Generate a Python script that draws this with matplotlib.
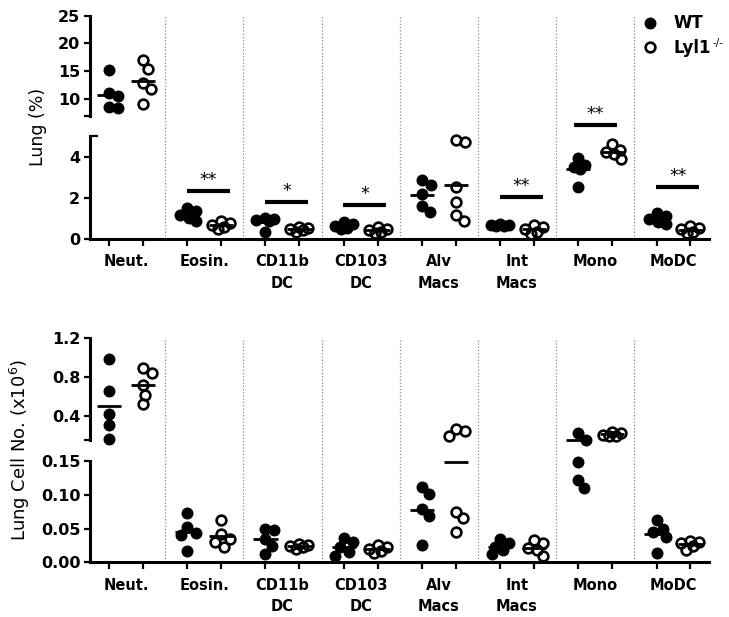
import numpy as np
import matplotlib
matplotlib.use("Agg")
import matplotlib.pyplot as plt
from matplotlib.lines import Line2D

plt.rcParams['font.family'] = ['DejaVu Sans']
plt.rcParams['mathtext.fontset'] = 'dejavusans'

# ---------------- data ----------------
categories = ["Neut.", "Eosin.", "CD11b\nDC", "CD103\nDC", "Alv\nMacs",
              "Int\nMacs", "Mono", "MoDC"]

# Lung (%) per population
pct_wt = [
    [15.2, 11.0, 10.5, 8.6, 8.3],
    [1.5, 1.35, 1.15, 1.0, 0.85],
    [1.0, 0.95, 0.9, 0.85, 0.35],
    [0.8, 0.7, 0.6, 0.5, 0.45],
    [2.85, 2.6, 2.2, 1.6, 1.3],
    [0.72, 0.68, 0.65, 0.62, 0.6],
    [3.95, 3.6, 3.5, 3.4, 2.5],
    [1.25, 1.1, 0.95, 0.8, 0.7],
]
pct_ko = [
    [17.0, 15.4, 12.8, 11.8, 9.1],
    [0.85, 0.75, 0.65, 0.55, 0.45],
    [0.55, 0.5, 0.45, 0.4, 0.35],
    [0.55, 0.45, 0.4, 0.35, 0.3],
    [4.8, 4.7, 2.5, 1.8, 1.15, 0.85],
    [0.65, 0.55, 0.45, 0.35, 0.25],
    [4.6, 4.3, 4.2, 4.1, 3.9],
    [0.6, 0.5, 0.45, 0.35, 0.3],
]

# Lung cell number (x10^6)
num_wt = [
    [0.98, 0.655, 0.417, 0.308, 0.16],
    [0.073, 0.052, 0.044, 0.040, 0.017],
    [0.050, 0.048, 0.035, 0.024, 0.012],
    [0.036, 0.030, 0.022, 0.015, 0.010],
    [0.111, 0.101, 0.079, 0.069, 0.025],
    [0.035, 0.028, 0.022, 0.018, 0.012],
    [0.223, 0.154, 0.149, 0.122, 0.110],
    [0.062, 0.050, 0.045, 0.037, 0.014],
]
num_ko = [
    [0.89, 0.84, 0.72, 0.62, 0.52],
    [0.063, 0.042, 0.035, 0.030, 0.022],
    [0.027, 0.025, 0.024, 0.022, 0.020],
    [0.025, 0.023, 0.020, 0.017, 0.014],
    [0.27, 0.25, 0.19, 0.075, 0.065, 0.045],
    [0.033, 0.028, 0.021, 0.018, 0.009],
    [0.24, 0.225, 0.21, 0.20, 0.19],
    [0.032, 0.030, 0.028, 0.024, 0.018],
]

# significance annotations on the % panel: (category index, bar height, label)
sig_idx = [1, 2, 3, 5, 6, 7]
sig_height = [2.31, 1.77, 1.65, 2.03, 5.54, 2.53]
sig_label = ["**", "*", "*", "**", "**", "**"]

legend_labels = ["WT", "Lyl1"]
legend_ko_sup = "-/-"

# ---------------- layout ----------------
W, H = 729, 617
fig = plt.figure(figsize=(W / 100, H / 100), dpi=100)


def px_axes(left, top, right, bottom, **kw):
    return fig.add_axes([left / W, 1 - bottom / H, (right - left) / W, (bottom - top) / H], **kw)


XL, XR = 90, 709
xlim = (-0.46, 7.454)
OFF = 0.217
SPINE_LW = 2.2
MS = 7.6  # marker size in points

panels = [
    dict(upper=(15.7, 115.7), lower=(136.0, 238.7), ulim=(7, 25), llim=(0, 5),
         uticks=[10, 15, 20, 25], ulabels=["10", "15", "20", "25"],
         lticks=[0, 2, 4], llabels=["0", "2", "4"],
         wt=pct_wt, ko=pct_ko, ylabel="Lung (%)", ylabel_x=38, ylabel_size=12.5),
    dict(upper=(338.0, 440.4), lower=(461.0, 562.3), ulim=(0.15, 1.2), llim=(0, 0.15),
         uticks=[0.4, 0.8, 1.2], ulabels=["0.4", "0.8", "1.2"],
         lticks=[0, 0.05, 0.10, 0.15], llabels=["0.00", "0.05", "0.10", "0.15"],
         wt=num_wt, ko=num_ko, ylabel="Lung Cell No. (x10$^6$)", ylabel_x=20,
         ylabel_size=13),
]

positions = np.arange(len(categories))


def style_axes(ax):
    for s in ["top", "right", "bottom"]:
        ax.spines[s].set_visible(False)
    ax.spines["left"].set_linewidth(SPINE_LW)
    ax.set_xlim(*xlim)
    ax.tick_params(axis="y", which="both", length=4, width=1.6, pad=3,
                   labelsize=11.5)
    for lbl in ax.get_yticklabels():
        lbl.set_fontweight("bold")
    ax.patch.set_alpha(0)


def swarm_offsets(xc, vals, axes_for, cap=9.0):
    """Spread overlapping points sideways (display pixels), within +/- cap."""
    diam = MS * 100 / 72.0
    min_d = diam * 0.95
    pts = []
    order = np.argsort(vals)[::-1]
    xs = np.zeros(len(vals))
    cands = [0.0]
    for k in range(1, int(cap / 0.5) + 1):
        cands += [k * 0.5, -k * 0.5]
    for i in order:
        v = vals[i]
        ax = axes_for(v)
        px, py = ax.transData.transform((xc, v))
        best, best_gap = None, -1
        for dx in cands:
            gap = min([np.hypot(px + dx - qx, py - qy) for qx, qy in pts] + [1e9])
            if gap >= min_d:
                best = dx
                break
            if gap > best_gap + 0.3:
                best_gap, best = gap, dx
        pts.append((px + best, py))
        xs[i] = ax.transData.inverted().transform((px + best, py))[0]
    return xs


pct_lower = None
for p in panels:
    # dotted separators across both segments (behind everything)
    sep = px_axes(XL, p["upper"][0], XR, p["lower"][1], zorder=0)
    sep.set_xlim(*xlim)
    sep.set_ylim(0, 1)
    sep.axis("off")
    for xs in positions[:-1] + 0.5:
        sep.axvline(xs, color="#8c8c8c", lw=0.9, ls=(0, (1, 1.6)))

    axu = px_axes(XL, p["upper"][0], XR, p["upper"][1], zorder=2)
    axl = px_axes(XL, p["lower"][0], XR, p["lower"][1], zorder=2)
    axu.set_ylim(*p["ulim"])
    axl.set_ylim(*p["llim"])

    # upper segment ticks
    axu.set_yticks(p["uticks"])
    axu.set_yticklabels(p["ulabels"])
    axu.set_yticks([p["ulim"][0]], minor=True)
    axu.set_xticks([])
    style_axes(axu)

    # lower segment ticks
    axl.set_yticks(p["lticks"])
    axl.set_yticklabels(p["llabels"])
    axl.set_yticks([p["llim"][1]], minor=True)
    style_axes(axl)
    axl.tick_params(axis="y", which="minor", direction="in", length=6)
    axl.spines["bottom"].set_visible(True)
    axl.spines["bottom"].set_linewidth(SPINE_LW)
    axl.set_xticks(positions)
    axl.set_xticklabels(categories, fontsize=10.5, fontweight="bold")
    axl.set_xticks(np.concatenate([positions - OFF, positions + OFF]), minor=True)
    axl.tick_params(axis="x", which="major", length=0, pad=11)
    axl.tick_params(axis="x", which="minor", length=5, width=1.6, direction="out")
    for lbl in axl.get_xticklabels():
        lbl.set_linespacing(1.55)

    def axes_for(v, axu=axu, axl=axl, split=p["llim"][1]):
        return axu if v > split else axl

    for i in positions:
        for vals, dx, filled in ((p["wt"][i], -OFF, True), (p["ko"][i], OFF, False)):
            vals = np.asarray(vals, dtype=float)
            xs = swarm_offsets(i + dx, vals, axes_for)
            for x, v in zip(xs, vals):
                ax = axes_for(v)
                if filled:
                    ax.plot(x, v, "o", ms=MS, mfc="black", mec="black", mew=1,
                            clip_on=False, zorder=3)
                else:
                    ax.plot(x, v, "o", ms=MS - 0.6, mfc="none", mec="black", mew=1.9,
                            clip_on=False, zorder=3)
            m = vals.mean()
            ax = axes_for(m)
            ax.plot([i + dx - 0.155, i + dx + 0.155], [m, m], color="black", lw=2.0,
                    solid_capstyle="butt", clip_on=False, zorder=4)

    fig.text(p["ylabel_x"] / W, 1 - (p["upper"][0] + p["lower"][1]) / 2 / H, p["ylabel"],
             rotation=90, ha="center", va="center", fontsize=p["ylabel_size"])

    if pct_lower is None:
        pct_lower = axl

# significance bars on the % panel
for i, h, lab in zip(sig_idx, sig_height, sig_label):
    if i == 6:
        x0, x1 = i - 0.27, i + 0.28
    else:
        x0, x1 = i - 0.22, i + 0.33
    pct_lower.plot([x0, x1], [h, h], color="black", lw=3.0, solid_capstyle="butt",
                   clip_on=False, zorder=4)
    pct_lower.annotate(lab, xy=((x0 + x1) / 2, h), xytext=(0, 1.5),
                       textcoords="offset points", ha="center", va="bottom",
                       fontsize=12.5, annotation_clip=False)

# legend
handles = [Line2D([], [], ls="none", marker="o", ms=MS, mfc="black", mec="black"),
           Line2D([], [], ls="none", marker="o", ms=MS - 0.6, mfc="none", mec="black", mew=1.9)]
leg = fig.legend(handles, legend_labels, loc="upper left",
                 bbox_to_anchor=(632 / W, 1 - 6 / H), frameon=False,
                 prop=dict(size=12, weight="bold"), handlelength=1.2,
                 handletextpad=0.8, labelspacing=0.4, borderpad=0)
fig.canvas.draw()
ko_text = leg.get_texts()[1]
bb = ko_text.get_window_extent(fig.canvas.get_renderer())
fig.text((bb.x1 + 1) / W, (bb.y1 + 1) / H, legend_ko_sup, ha="left", va="top",
         fontsize=7.5)

fig.savefig("out.png", dpi=100)
